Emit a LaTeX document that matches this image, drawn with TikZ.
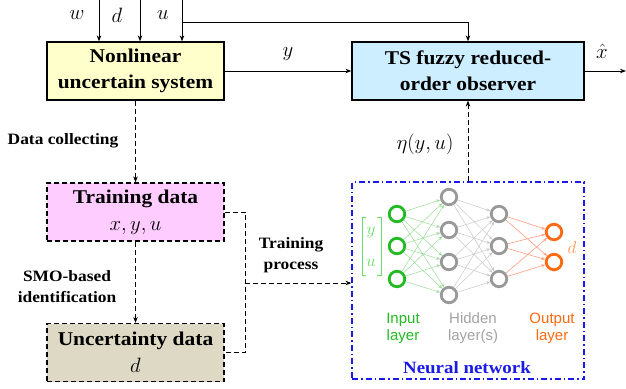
\documentclass[tikz,border=0pt]{standalone}
\usepackage{fontspec}
\setmainfont{Liberation Serif}[FakeStretch=1.1]
\newfontfamily\nnfont{Liberation Sans}
\usetikzlibrary{arrows.meta,calc}
\definecolor{yelfill}{HTML}{FFFFCC}
\definecolor{bluefill}{HTML}{CCEEFF}
\definecolor{pinkfill}{HTML}{FFCCFF}
\definecolor{tanfill}{HTML}{DDD9C4}
\definecolor{nngreen}{HTML}{22BB22}
\definecolor{nngray}{HTML}{999999}
\definecolor{nnorange}{HTML}{FF6A10}
\definecolor{lgreen}{HTML}{99DD99}
\definecolor{bgreen}{HTML}{66DD66}
\definecolor{lgray}{HTML}{C8C8C8}
\definecolor{lorange}{HTML}{FF9C80}
\definecolor{nnblue}{HTML}{1A1AE6}
\tikzset{
  mainbox/.style={draw, line width=1.2pt, minimum width=177pt, minimum height=58pt, align=center, font=\fontsize{19.5}{26}\selectfont\bfseries, inner sep=0pt},
  dbox/.style={mainbox, dash pattern=on 5pt off 3pt},
  arr/.style={line width=1pt, -{Stealth[length=6pt,width=4.5pt]}},
  darr/.style={arr, dash pattern=on 5pt off 3pt},
  dline/.style={line width=1pt, dash pattern=on 5pt off 3pt},
  lbl/.style={font=\fontsize{15.8}{21}\selectfont\bfseries, align=center},
  mlbl/.style={font=\fontsize{20}{22}\selectfont, inner sep=1pt},
  neuron/.style={circle, line width=2.8pt, minimum size=15.5pt, inner sep=0pt},
  nnlbl/.style={font=\nnfont\fontsize{15}{17}\selectfont, align=center},
}
\begin{document}
\begin{tikzpicture}[x=1pt,y=-1pt]
\useasboundingbox (0,0) rectangle (626,388);
% boxes
\node[mainbox, fill=yelfill] (nls) at (135.5,71) {Nonlinear\\uncertain system};
\node[mainbox, fill=bluefill, minimum width=232pt] (obs) at (468,71) {TS fuzzy reduced-\\order observer};
\node[dbox, fill=pinkfill] (tr) at (135.5,212) {Training data\\[1pt]\mdseries\fontsize{22}{24}\selectfont$x,y,u$};
\node[dbox, fill=tanfill] (unc) at (135.5,352.5) {Uncertainty data\\[1pt]\mdseries\fontsize{22}{24}\selectfont$d$};
\node[draw=nnblue, line width=1.2pt, dash pattern=on 6pt off 3pt on 1.5pt off 3pt, minimum width=232pt, minimum height=197pt, inner sep=0pt] (nn) at (468,280.5) {};
% inputs
\coordinate (wt) at (99,0);
\coordinate (dt) at (140,0);
\coordinate (ut) at (182,0);
\coordinate (ub) at (182,22);
\draw[arr] (wt) -- (wt |- nls.north);
\draw[arr] (dt) -- (dt |- nls.north);
\draw[arr] (ut) -- (ut |- nls.north);
\draw[arr] (ub) -| (obs.north);
\node[mlbl] (wl) at (77,15) {$w$};
\node[mlbl] (dl) at (117,15) {$d$};
\node[mlbl] (ul) at (163,15) {$u$};
% y and xhat
\draw[arr] (nls.east) -- (obs.west);
\node[mlbl] (yl) at (288,54) {$y$};
\coordinate (xo) at (626,71);
\draw[arr] (obs.east) -- (xo);
\node[mlbl] (xl) at (602,51) {$\hat{x}$};
% dashed flows
\draw[darr] (nls.south) -- (tr.north);
\node[lbl] (dc) at (63,141) {Data collecting};
\draw[darr] (tr.south) -- (unc.north);
\node[lbl] (smo) at (67,286.5) {SMO-based\\identification};
\coordinate (tp) at (245,283);
\draw[dline] (tr.east) -- ++(21,0) |- (unc.east);
\draw[darr] (tp) -- (nn.west |- tp);
\node[lbl] (tpl) at (291,255) {Training\\process};
\draw[darr] (nn.north) -- (obs.south);
\node[mlbl] (eta) at (425,144) {$\eta(y,u)$};
% neural network
\node[neuron, draw=nngreen] (i1) at (397,214) {};
\node[neuron, draw=nngreen] (i2) at (397,246) {};
\node[neuron, draw=nngreen] (i3) at (397,279) {};
\node[neuron, draw=nngray] (h1) at (449,197) {};
\node[neuron, draw=nngray] (h2) at (449,230) {};
\node[neuron, draw=nngray] (h3) at (449,262) {};
\node[neuron, draw=nngray] (h4) at (449,295) {};
\node[neuron, draw=nngray] (g1) at (499,214) {};
\node[neuron, draw=nngray] (g2) at (499,246) {};
\node[neuron, draw=nngray] (g3) at (499,279) {};
\node[neuron, draw=nnorange] (o1) at (554,232) {};
\node[neuron, draw=nnorange] (o2) at (554,262) {};
\foreach \a in {i1,i2,i3}{\foreach \b in {h1,h2,h3,h4}{
  \draw[lgreen, line width=0.5pt, -{Stealth[length=4pt,width=3pt]}] (\a) -- (\b);}}
\foreach \a in {h1,h2,h3,h4}{\foreach \b in {g1,g2,g3}{
  \draw[lgray, line width=0.5pt, -{Stealth[length=4pt,width=3pt]}] (\a) -- (\b);}}
\foreach \a in {g1,g2,g3}{\foreach \b in {o1,o2}{
  \draw[lorange, line width=0.6pt, -{Stealth[length=4pt,width=3pt]}] (\a) -- (\b);}}
% bracket
\draw[bgreen, line width=1pt] (366,217) -- (362,217) -- (362,275) -- (366,275);
\draw[bgreen, line width=1pt] (377,217) -- (381,217) -- (381,275) -- (377,275);
\node[text=bgreen, font=\fontsize{16}{16}\selectfont] (yv) at (371,232) {$y$};
\node[text=bgreen, font=\fontsize{16}{16}\selectfont] (uv) at (371,263) {$u$};
\node[text=nnorange!70, font=\fontsize{16}{16}\selectfont] (dv) at (572,247) {$d$};
\node[nnlbl, text=nngreen] (il) at (403,328) {Input\\layer};
\node[nnlbl, text=nngray!90] (hl) at (473,328) {Hidden\\layer(s)};
\node[nnlbl, text=nnorange] (ol) at (552,328) {Output\\layer};
\node[font=\fontsize{17.2}{20}\selectfont\bfseries, text=nnblue] (nnl) at (467,368) {Neural network};
\end{tikzpicture}
\end{document}
